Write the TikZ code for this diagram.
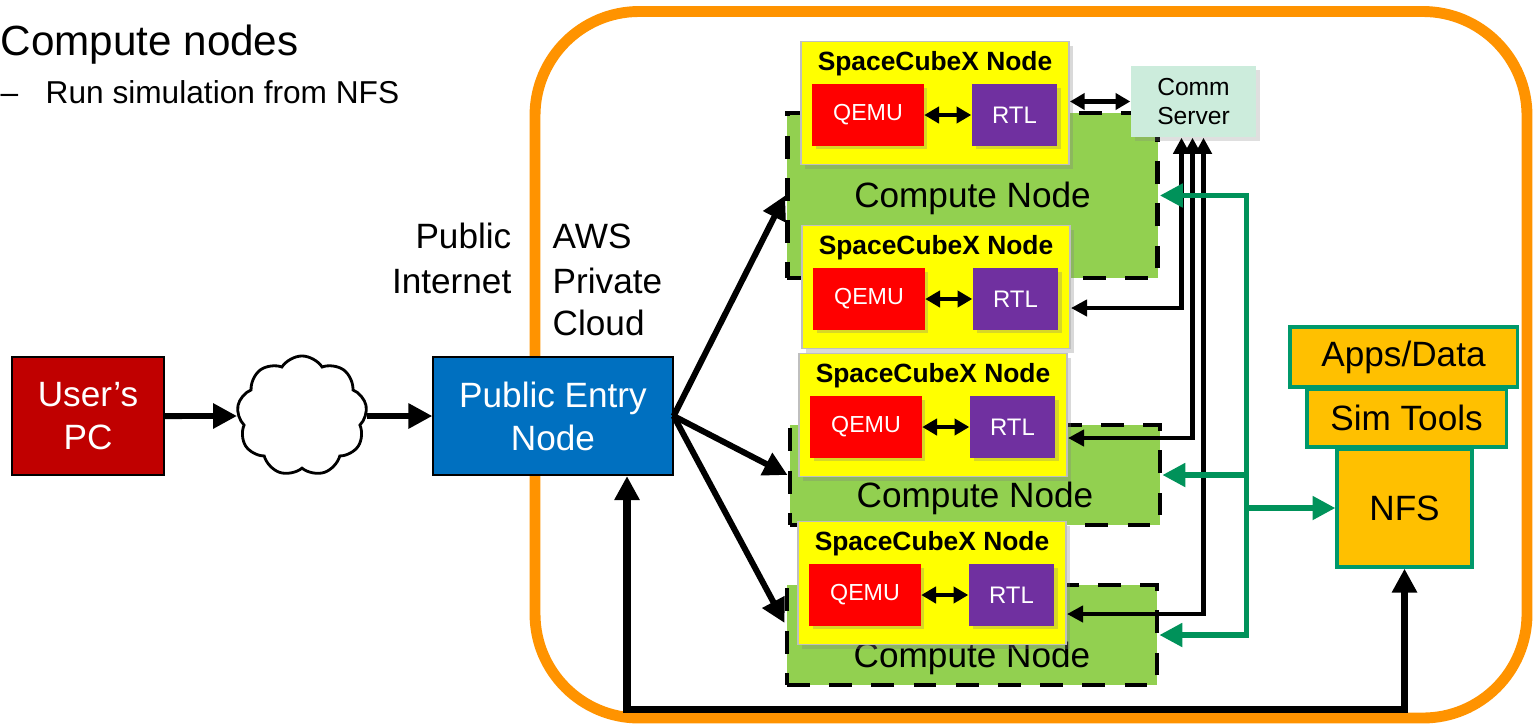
\documentclass[tikz,border=0pt]{standalone}
\usepackage{fontspec}
\setmainfont{Liberation Sans}
\usepackage{xcolor}
\usepackage{tikz}
\usetikzlibrary{calc,arrows.meta,shapes.symbols,shadows}
\definecolor{borderorange}{HTML}{FF9300}
\definecolor{pcred}{HTML}{C00000}
\definecolor{entryblue}{HTML}{0070C0}
\definecolor{cngreen}{HTML}{92D050}
\definecolor{scxyellow}{HTML}{FFFF00}
\definecolor{qemured}{HTML}{FF0000}
\definecolor{rtlpurple}{HTML}{7030A0}
\definecolor{commmint}{HTML}{CCECDC}
\definecolor{nfsamber}{HTML}{FFC000}
\definecolor{nfsedge}{HTML}{00996B}
\definecolor{busgreen}{HTML}{00925A}
\newcommand{\scxname}{SpaceCubeX Node}
\newcommand{\cnname}{Compute Node}
\newcommand{\headfont}{\fontsize{12}{14}\selectfont}
\newcommand{\subfont}{\fontsize{9}{11}\selectfont}
\newcommand{\boxfont}{\fontsize{10}{12.2}\selectfont}

\begin{document}
\begin{tikzpicture}[x=0.01cm, y=-0.01cm,
	bigarrow/.style={line width=1.7pt, -{Triangle[length=6.8pt,width=6.8pt]}},
	bottomline/.style={line width=2pt, {Triangle[length=6.8pt,width=6.8pt]}-{Triangle[length=6.8pt,width=6.8pt]}},
	smallbiarrow/.style={line width=1.4pt, {Triangle[length=4.2pt,width=4.6pt]}-{Triangle[length=4.2pt,width=4.6pt]}},
	commarrow/.style={line width=1.25pt, {Triangle[length=4.6pt,width=4.6pt]}-{Triangle[length=4.6pt,width=4.6pt]}},
	greenarrow/.style={draw=busgreen, line width=1.5pt, -{Triangle[length=6.5pt,width=6.5pt]}},
	sidetext/.style={inner sep=0pt, font=\boxfont},
	pcbox/.style={draw=black, line width=0.6pt, fill=pcred, text=white, align=center, font=\boxfont, minimum width=1.52cm, minimum height=1.18cm},
	entrybox/.style={draw=black, line width=0.6pt, fill=entryblue, text=white, align=center, font=\boxfont, minimum width=2.39cm, minimum height=1.18cm},
	netcloud/.style={cloud, draw=black, fill=white, line width=0.8pt, cloud puffs=9, cloud puff arc=115, aspect=1.1, minimum width=1.3cm, minimum height=1.2cm, inner sep=0pt},
	cnbox/.style={draw=black, fill=cngreen, line width=1.3pt, dash pattern=on 6.5pt off 5.5pt, minimum width=3.7cm},
	cnlabel/.style={inner sep=0pt, font=\boxfont},
	scxbox/.style={draw=black!25, line width=0.5pt, fill=scxyellow, minimum width=2.68cm, minimum height=1.23cm, drop shadow={shadow xshift=1.2pt, shadow yshift=-1.2pt, opacity=0.3}},
	scxtitle/.style={anchor=base, inner sep=0pt, font=\bfseries\fontsize{7.5}{9}\selectfont},
	qemubox/.style={fill=qemured, text=white, font=\fontsize{6.6}{8}\selectfont, minimum width=1.11cm, minimum height=0.61cm, drop shadow={shadow xshift=1pt, shadow yshift=-1pt, opacity=0.3}},
	rtlbox/.style={fill=rtlpurple, text=white, font=\fontsize{6.8}{8}\selectfont, minimum width=0.85cm, minimum height=0.61cm, drop shadow={shadow xshift=1pt, shadow yshift=-1pt, opacity=0.3}},
	commbox/.style={fill=commmint, align=center, font=\fontsize{7}{8.3}\selectfont, minimum width=1.25cm, minimum height=0.71cm, drop shadow={shadow xshift=1pt, shadow yshift=-1pt, opacity=0.25}},
	nfsbox/.style={draw=nfsedge, fill=nfsamber, line width=0.9pt, font=\boxfont}]
	\useasboundingbox (0,0) rectangle (1537,724);
	\draw[draw=borderorange, line width=3.1pt, rounded corners=1.04cm] (535,11.5) rectangle (1527,718);

	\node[anchor=base west, inner sep=0pt, font=\headfont] (heading) at (0,55) {Compute nodes};
	\node[anchor=base west, inner sep=0pt, font=\subfont] (dash) at (0,103) {–};
	\node[anchor=base west, inner sep=0pt, font=\subfont] (runsim) at (45,103) {Run simulation from NFS};
	\foreach \lineName/\yCoord in {Public/248, Internet/293}
	{
		\node[sidetext, anchor=base east] (pub-\yCoord) at (512,\yCoord) {\lineName};
	}
	\foreach \lineName/\yCoord in {AWS/248, Private/293, Cloud/335}
	{
		\node[sidetext, anchor=base west] (aws-\yCoord) at (552,\yCoord) {\lineName};
	}

	\node[pcbox] (pc) at (88,416) {User’s\\PC};
	\node[netcloud] (net) at (302,416) {};
	\node[entrybox] (entry) at (553,416) {Public Entry\\Node};
	\draw[bigarrow] (pc) -- (net);
	\draw[bigarrow] (net) -- (entry);

	\foreach \n/\xCoord/\yCoord/\boxHeight/\labelShift in {1/972.5/195.5/1.65/2.5, 2/975/475/1.0/23, 3/972/635/1.0/23}
	{
		\node[cnbox, minimum height=\boxHeight cm] (cn\n) at (\xCoord,\yCoord) {};
		\node[cnlabel] (cnt\n) at ($(cn\n.center)+(0,\labelShift)$) {\cnname};
	}
	\foreach \n/\xCoord/\yCoord in {1/935/103, 2/936/287, 3/933/415, 4/932/583}
	{
		\node[scxbox] (scx\n) at (\xCoord,\yCoord) {};
		\node[scxtitle] (scxt\n) at ($(scx\n.north)+(0,30)$) {\scxname};
		\node[qemubox] (qemu\n) at ($(scx\n.center)+(-67,12)$) {QEMU};
		\node[rtlbox] (rtl\n) at ($(scx\n.center)+(79.5,12)$) {RTL};
		\draw[smallbiarrow] (qemu\n) -- (rtl\n);
	}

	\node[commbox] (comm) at (1193.5,101.5) {Comm\\Server};
	\draw[smallbiarrow] (comm.west) -- (comm.west -| scx1.east);
	\foreach \n/\dx/\dy in {2/-12/21, 3/-1/23, 4/10/31}
	{
		\draw[commarrow] ($(comm.south)+(\dx,0)$) |- ($(scx\n.east)+(0,\dy)$);
	}

	\node[nfsbox, minimum width=2.27cm, minimum height=0.6cm] (apps) at (1403.5,357) {Apps/Data};
	\node[nfsbox, minimum width=1.99cm, minimum height=0.58cm] (simtools) at (1406.5,418) {Sim Tools};
	\node[nfsbox, minimum width=1.35cm, minimum height=1.18cm] (nfs) at (1404.5,508) {NFS};
	\coordinate (bus) at ($(nfs.west)+(-89,0)$);
	\foreach \n in {1,2,3}
	{
		\draw[greenarrow] (bus) |- (cn\n.east);
	}
	\draw[greenarrow] (bus) -- (nfs.west);

	\foreach \n/\dy in {1/0, 2/0, 3/-12}
	{
		\draw[bigarrow] (entry.east) -- ($(cn\n.west)+(0,\dy)$);
	}
	\draw[bottomline] ($(entry.south)+(74,0)$) -- ++(0,233) -| (nfs.south);
\end{tikzpicture}
\end{document}
